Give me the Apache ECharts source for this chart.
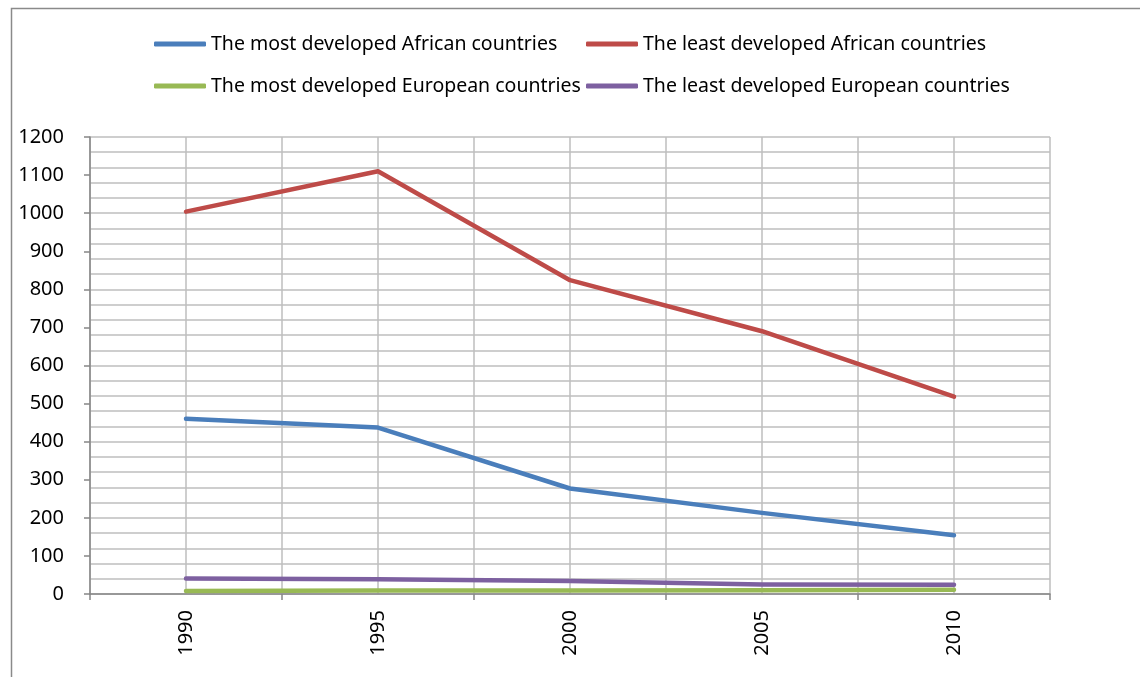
<!DOCTYPE html>
<html>
<head>
<meta charset="utf-8">
<script src="https://cdn.jsdelivr.net/npm/echarts@6/dist/echarts.min.js"></script>
<style>
  html, body { margin: 0; padding: 0; background: #fff; }
  #chart { width: 1140px; height: 677px; }
</style>
</head>
<body>
<div id="chart"></div>
<script>
const years = [1990, 1995, 2000, 2005, 2010];
const mostAfrica = [460, 437, 277, 213, 154];
const leastAfrica = [1004, 1110, 824, 690, 518];
const mostEurope = [8, 9, 9, 10, 11];
const leastEurope = [41, 39, 34, 25, 24];

const names = [
    'The most developed African countries',
    'The least developed African countries',
    'The most developed European countries',
    'The least developed European countries'
];
const colors = ['#4A7EBB', '#BE4B48', '#98B954', '#7D60A0'];
const values = [mostAfrica, leastAfrica, mostEurope, leastEurope];

const font = 'Noto Sans';

function pairs(arr) {
    return years.map((y, i) => [y, arr[i]]);
}

const legendBase = {
    orient: 'vertical',
    itemWidth: 52,
    itemHeight: 5,
    itemGap: 18,
    icon: 'roundRect',
    textStyle: { fontFamily: font, fontSize: 19.5, color: '#000', lineHeight: 24 }
};

var myChart = echarts.init(document.getElementById('chart'));
myChart.setOption({
    animation: false,
    color: colors,
    graphic: [{
        type: 'rect',
        shape: { x: 11.5, y: 8.5, width: 1200, height: 700 },
        style: { fill: 'none', stroke: '#8a8a8a', lineWidth: 1.5 },
        silent: true
    }],
    legend: [
        Object.assign({ left: 149, top: 27, data: [names[0], names[2]] }, legendBase),
        Object.assign({ left: 581, top: 27, data: [names[1], names[3]] }, legendBase)
    ],
    grid: { left: 90, right: 90, top: 137, bottom: 83 },
    xAxis: [{
        type: 'value',
        min: 1987.5,
        max: 2012.5,
        interval: 5,
        axisLine: { show: true, lineStyle: { color: '#868686', width: 1.5 } },
        axisTick: { show: true, length: 6, lineStyle: { color: '#868686', width: 1.5 } },
        axisLabel: { show: false },
        splitLine: { show: false }
    }, {
        type: 'value',
        min: 1987.5,
        max: 2012.5,
        interval: 2.5,
        position: 'bottom',
        axisLine: { show: false },
        axisTick: { show: false },
        axisLabel: {
            show: true,
            rotate: 90,
            margin: 16,
            fontFamily: font,
            fontSize: 20,
            color: '#000',
            formatter: v => (v % 5 === 0 ? String(v) : '')
        },
        splitLine: { show: true, lineStyle: { color: '#bebebe', width: 1.5 } }
    }],
    yAxis: [{
        type: 'value',
        min: 0,
        max: 1200,
        interval: 100,
        axisLine: { show: true, lineStyle: { color: '#868686', width: 1.5 } },
        axisTick: { show: true, length: 6, lineStyle: { color: '#868686', width: 1.5 } },
        axisLabel: {
            margin: 26,
            fontFamily: font,
            fontSize: 20,
            color: '#000',
            formatter: v => String(v)
        },
        splitLine: { show: false }
    }, {
        type: 'value',
        min: 0,
        max: 1200,
        interval: 40,
        position: 'left',
        axisLine: { show: false },
        axisTick: { show: false },
        axisLabel: { show: false },
        splitLine: { show: true, lineStyle: { color: '#bebebe', width: 1.5 } }
    }],
    series: names.map((n, i) => ({
        name: n,
        type: 'line',
        xAxisIndex: 0,
        yAxisIndex: 0,
        data: pairs(values[i]),
        symbol: 'none',
        lineStyle: { width: 4.5, color: colors[i], cap: 'round', join: 'round' },
        itemStyle: { color: colors[i] },
        z: 10 - i
    }))
});
window.addEventListener('resize', function () { myChart.resize(); });
</script>
</body>
</html>
